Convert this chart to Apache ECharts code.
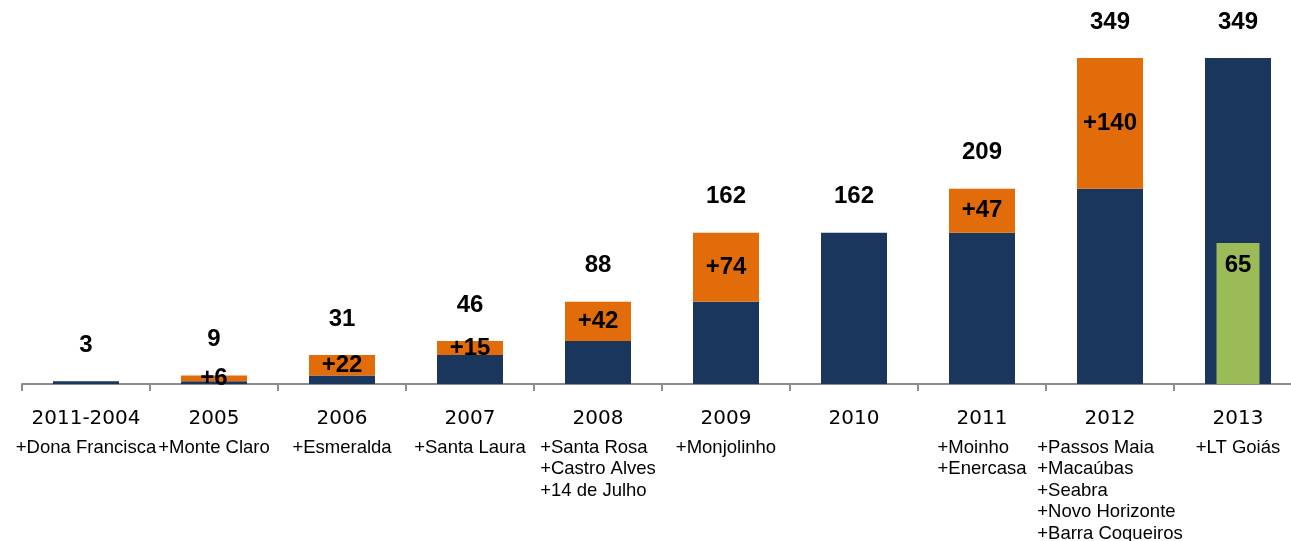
<!DOCTYPE html>
<html>
<head>
<meta charset="utf-8">
<script src="https://cdn.jsdelivr.net/npm/echarts@6/dist/echarts.min.js"></script>
<style>html,body{margin:0;padding:0;background:#fff}#c{width:1291px;height:541px}</style>
</head>
<body>
<div id="c"></div>
<script>
const categories = ['2011-2004','2005','2006','2007','2008','2009','2010','2011','2012','2013'];
const acquisitions = [
  ['+Dona Francisca'], ['+Monte Claro'], ['+Esmeralda'], ['+Santa Laura'],
  ['+Santa Rosa','+Castro Alves','+14 de Julho'], ['+Monjolinho'], [],
  ['+Moinho','+Enercasa'],
  ['+Passos Maia','+Macaúbas','+Seabra','+Novo Horizonte','+Barra Coqueiros'],
  ['+LT Goiás']
];
const baseValues = [3, 3, 9, 31, 46, 88, 162, 162, 209, 349];
const additions  = [0, 6, 22, 15, 42, 74, 0, 47, 140, 0];
const totals     = [3, 9, 31, 46, 88, 162, 162, 209, 349, 349];
const greenHeight = [null, null, null, null, null, null, null, null, null, 151];
const greenLabel  = ['', '', '', '', '', '', '', '', '', '65'];

const chart = echarts.init(document.getElementById('c'));
const lblFont = {fontFamily: 'Liberation Sans', fontWeight: 'bold', fontSize: 24, color: '#000'};
chart.setOption({
  animation: false,
  grid: {left: 22, right: -11, top: 58, bottom: 157, containLabel: false, outerBoundsMode: 'none'},
  xAxis: [{
    type: 'category', data: categories,
    axisLine: {lineStyle: {color: '#8c8c8c', width: 2}},
    axisTick: {show: true, length: 7, lineStyle: {color: '#8c8c8c', width: 2}},
    axisLabel: {
      interval: 0, margin: 17,
      formatter: (v, i) => '{y|' + v + '}' + acquisitions[i].map(s => '\n{n|' + s + '}').join(''),
      rich: {
        y: {fontFamily: 'DejaVu Sans', fontSize: 20, lineHeight: 36, align: 'center', color: '#000'},
        n: {fontFamily: 'Liberation Sans', fontSize: 18.5, lineHeight: 21.5, align: 'left', color: '#000'}
      }
    }
  }, {
    type: 'category', data: categories, show: false
  }],
  yAxis: {type: 'value', min: 0, max: 349, show: false, splitLine: {show: false}},
  series: [
    {type: 'bar', stack: 'a', barWidth: 66, data: baseValues,
     itemStyle: {color: '#1b365d'}},
    {type: 'bar', stack: 'a', data: additions,
     itemStyle: {color: '#e36c0a'},
     label: Object.assign({show: true, position: 'inside',
       formatter: p => p.value > 0 ? '+' + p.value : ''}, lblFont)},
    {type: 'bar', stack: 'a', data: totals.map(() => 0),
     itemStyle: {color: 'transparent'},
     label: Object.assign({show: true, position: 'top', distance: 24,
       formatter: p => String(totals[p.dataIndex])}, lblFont)},
    {type: 'bar', xAxisIndex: 1, barWidth: 43, data: greenHeight,
     itemStyle: {color: '#9bbb59'},
     label: Object.assign({show: true, position: 'insideTop', distance: 10,
       formatter: p => greenLabel[p.dataIndex]}, lblFont)}
  ]
});
</script>
</body>
</html>
